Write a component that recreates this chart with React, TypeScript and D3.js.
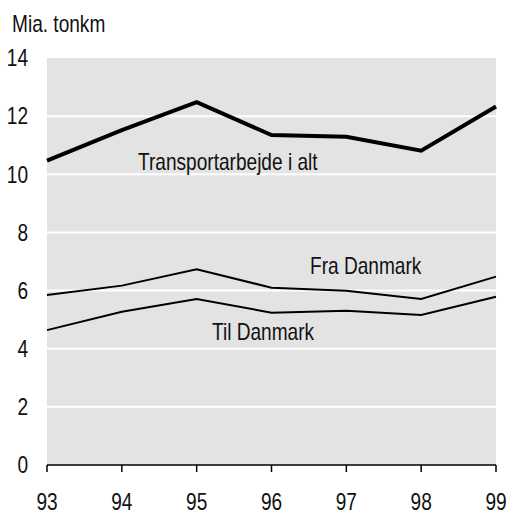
import React from "react";
import * as d3 from "d3";

const years = ["93", "94", "95", "96", "97", "98", "99"];
const total = [10.47, 11.52, 12.48, 11.35, 11.29, 10.81, 12.33];
const fraDanmark = [5.85, 6.17, 6.73, 6.1, 5.99, 5.71, 6.48];
const tilDanmark = [4.64, 5.27, 5.71, 5.24, 5.31, 5.16, 5.79];
const yTicks = [0, 2, 4, 6, 8, 10, 12, 14];

const W = 507;
const H = 512;
const FONT = "'Liberation Sans', Arial, sans-serif";
const SX = 0.83;

function T({
  x,
  y,
  anchor = "start",
  dy,
  children,
}: {
  x: number;
  y: number;
  anchor?: "start" | "middle" | "end";
  dy?: string;
  children: React.ReactNode;
}) {
  return (
    <g transform={`translate(${x},${y}) scale(${SX},1)`}>
      <text x={0} y={0} dy={dy} textAnchor={anchor} fontSize={23} fill="#111">
        {children}
      </text>
    </g>
  );
}

export default function App() {
  const x = d3.scaleLinear().domain([0, years.length - 1]).range([47, 496]);
  const y = d3.scaleLinear().domain([0, 14]).range([465, 58]);
  const line = d3
    .line<number>()
    .x((_, i) => x(i))
    .y((d) => y(d));

  return (
    <svg
      width={W}
      height={H}
      style={{ position: "absolute", left: 0, top: 0, fontFamily: FONT }}
    >
      <rect x={x(0)} y={y(14)} width={x(6) - x(0)} height={y(0) - y(14)} fill="#e3e3e3" />
      {yTicks
        .filter((t) => t > 0 && t < 14)
        .map((t) => (
          <line key={t} x1={x(0)} x2={x(6)} y1={y(t)} y2={y(t)} stroke="#ffffff" strokeWidth={2} />
        ))}
      <line x1={x(0)} x2={x(6)} y1={y(0)} y2={y(0)} stroke="#000" strokeWidth={1.5} />
      {years.map((yr, i) => (
        <g key={yr}>
          <line x1={x(i)} x2={x(i)} y1={y(0)} y2={y(0) + 7} stroke="#000" strokeWidth={1.5} />
          <T x={x(i)} y={510} anchor="middle">
            {yr}
          </T>
        </g>
      ))}
      {yTicks.map((t) => (
        <T key={t} x={28} y={y(t)} dy="0.36em" anchor="end">
          {t}
        </T>
      ))}
      <T x={12} y={32}>
        Mia. tonkm
      </T>
      <path d={line(total) || ""} fill="none" stroke="#000" strokeWidth={4} />
      <path d={line(fraDanmark) || ""} fill="none" stroke="#000" strokeWidth={2} />
      <path d={line(tilDanmark) || ""} fill="none" stroke="#000" strokeWidth={2} />
      <T x={138} y={170}>
        Transportarbejde i alt
      </T>
      <T x={310} y={274}>
        Fra Danmark
      </T>
      <T x={212} y={340}>
        Til Danmark
      </T>
    </svg>
  );
}
